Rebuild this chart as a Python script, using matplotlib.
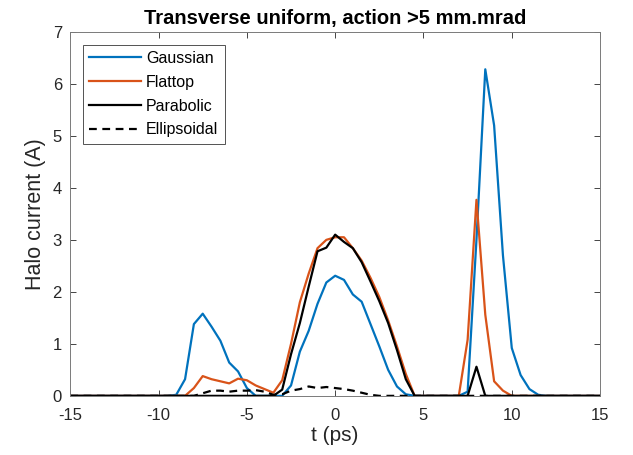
import numpy as np
import matplotlib
matplotlib.use("Agg")
import matplotlib.pyplot as plt

plt.rcParams['font.family'] = ['Liberation Sans', 'DejaVu Sans']
plt.rcParams['axes.unicode_minus'] = False

t = np.arange(-15, 15.01, 0.5)

def series(pairs):
    d = dict(pairs)
    return [d.get(round(x, 1), 0.0) for x in t]

gaussian = series([(-9.0, 0.02), (-8.5, 0.32), (-8.0, 1.38), (-7.5, 1.58), (-7.0, 1.33),
                   (-6.5, 1.06), (-6.0, 0.64), (-5.5, 0.47), (-5.0, 0.15),
                   (-2.5, 0.2), (-2.0, 0.85), (-1.5, 1.25), (-1.0, 1.77), (-0.5, 2.18),
                   (0.0, 2.31), (0.5, 2.23), (1.0, 1.95), (1.5, 1.81), (2.0, 1.38),
                   (2.5, 0.95), (3.0, 0.5), (3.5, 0.18), (4.0, 0.03),
                   (7.5, 0.08), (8.0, 3.0), (8.5, 6.28), (9.0, 5.2), (9.5, 2.7),
                   (10.0, 0.92), (10.5, 0.4), (11.0, 0.13), (11.5, 0.02)])

flattop = series([(-8.0, 0.15), (-7.5, 0.38), (-7.0, 0.32), (-6.5, 0.28), (-6.0, 0.24),
                  (-5.5, 0.33), (-5.0, 0.3), (-4.5, 0.2), (-4.0, 0.13), (-3.5, 0.06),
                  (-3.0, 0.3), (-2.5, 1.0), (-2.0, 1.8), (-1.5, 2.35), (-1.0, 2.84),
                  (-0.5, 3.0), (0.0, 3.05), (0.5, 3.05), (1.0, 2.84), (1.5, 2.6),
                  (2.0, 2.27), (2.5, 1.9), (3.0, 1.45), (3.5, 0.95), (4.0, 0.42),
                  (7.5, 1.08), (8.0, 3.77), (8.5, 1.56), (9.0, 0.28), (9.5, 0.1)])

parabolic = series([(-3.0, 0.12), (-2.5, 0.8), (-2.0, 1.4), (-1.5, 2.1), (-1.0, 2.78),
                    (-0.5, 2.85), (0.0, 3.1), (0.5, 2.96), (1.0, 2.84), (1.5, 2.57),
                    (2.0, 2.2), (2.5, 1.82), (3.0, 1.4), (3.5, 0.88), (4.0, 0.32),
                    (8.0, 0.56)])

ellipsoidal = series([(-7.5, 0.05), (-7.0, 0.1), (-6.5, 0.1), (-6.0, 0.08), (-5.5, 0.1),
                      (-5.0, 0.1), (-4.5, 0.11), (-4.0, 0.08), (-3.5, 0.02), (-3.0, 0.03),
                      (-2.5, 0.1), (-2.0, 0.13), (-1.5, 0.18), (-1.0, 0.15), (-0.5, 0.17),
                      (0.0, 0.15), (0.5, 0.13), (1.0, 0.1), (1.5, 0.06), (2.0, 0.02)])

fig = plt.figure(figsize=(6.33, 4.55), dpi=100)
ax = fig.add_axes([0.111, 0.130, 0.837, 0.800])

ax.plot(t, gaussian, color='#0072BD', lw=1.6, label='Gaussian')
ax.plot(t, flattop, color='#D95319', lw=1.6, label='Flattop')
ax.plot(t, parabolic, color='black', lw=1.6, label='Parabolic')
ax.plot(t, ellipsoidal, color='black', lw=1.6, ls=(0, (3.5, 2.5)), label='Ellipsoidal')

ax.set_xlim(-15, 15)
ax.set_ylim(0, 7)
ax.set_xticks(np.arange(-15, 16, 5))
ax.set_yticks(np.arange(0, 8, 1))
ax.tick_params(direction='in', top=True, right=True, length=4, width=0.6,
               colors='#262626', labelsize=12, labelcolor='#262626')
ax.tick_params(axis='x', pad=9)
ax.tick_params(axis='y', pad=6)
for s in ax.spines.values():
    s.set_color('#7a7a7a')
    s.set_linewidth(0.7)

ax.set_xlabel('t (ps)', fontsize=15, color='#262626', labelpad=2)
ax.set_ylabel('Halo current (A)', fontsize=15.5, color='#262626', labelpad=5)
ax.set_title('Transverse uniform, action >5 mm.mrad', fontsize=14.5, fontweight='bold',
             color='black', pad=6)

leg = ax.legend(loc='upper left', fontsize=11.5, frameon=True, fancybox=False,
                edgecolor='#262626', handlelength=3.2, borderaxespad=0.8,
                labelspacing=0.55, handletextpad=0.35, borderpad=0.4)
leg.get_frame().set_linewidth(0.7)

fig.savefig('out.png', dpi=100)
